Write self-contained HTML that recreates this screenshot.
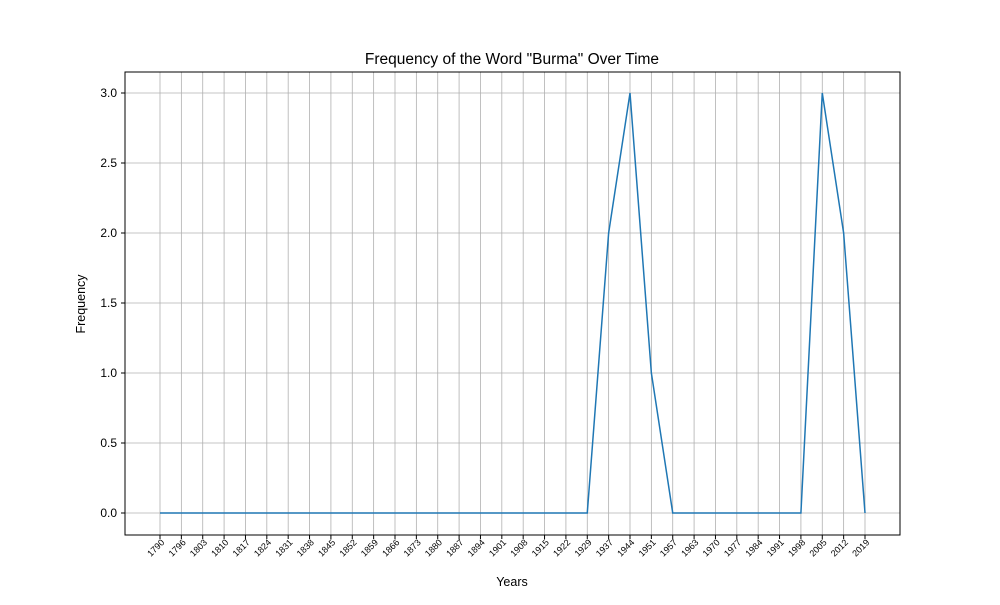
<!DOCTYPE html>
<html><head><meta charset="utf-8"><style>
body{margin:0;background:#fff;}
svg{font-family:"Liberation Sans","DejaVu Sans",sans-serif;}
</style></head><body>
<svg id="chart" width="1000" height="600">
<rect width="1000" height="600" fill="#fff"/>
<text x="512" y="64" font-size="15.5" text-anchor="middle">Frequency of the Word "Burma" Over Time</text>
<text x="512" y="586" font-size="12.5" text-anchor="middle">Years</text>
<text transform="translate(85,304) rotate(-90)" font-size="12.5" text-anchor="middle">Frequency</text>
<g id="grid"></g><g id="xt"></g><g id="yt"></g><g id="series"></g>
<rect x="125" y="72" width="775" height="463" fill="none" stroke="#000" stroke-width="1"/>
</svg>
<script>
const years=["1790","1796","1803","1810","1817","1824","1831","1838","1845","1852","1859","1866","1873","1880","1887","1894","1901","1908","1915","1922","1929","1937","1944","1951","1957","1963","1970","1977","1984","1991","1998","2005","2012","2019"];
const freq=[0,0,0,0,0,0,0,0,0,0,0,0,0,0,0,0,0,0,0,0,0,2,3,1,0,0,0,0,0,0,0,3,2,0];
const yTicks=[0,0.5,1,1.5,2,2.5,3];
const NS="http://www.w3.org/2000/svg";
function X(i){return 160+i*(705/(years.length-1));}
function Y(v){return 513-v*140;}
function mk(t,a,p){const e=document.createElementNS(NS,t);for(const k in a)e.setAttribute(k,a[k]);p.appendChild(e);return e;}
const g=document.getElementById('grid'),xt=document.getElementById('xt'),yt=document.getElementById('yt'),s=document.getElementById('series');
years.forEach((y,i)=>{const x=X(i);
const l=mk('line',{x1:x,x2:x,y1:72,y2:535,stroke:'#b0b0b0','stroke-width':0.8},g);


mk('line',{x1:x,x2:x,y1:535,y2:539,stroke:'#000'},xt);
const t=mk('text',{x:x+5,y:543,'font-size':9,'text-anchor':'end',transform:`rotate(-45 ${x+5} 543)`},xt);t.textContent=y;


});
yTicks.forEach(v=>{const y=Y(v);
const l=mk('line',{x1:125,x2:900,y1:y,y2:y,stroke:'#b0b0b0','stroke-width':0.8},g);


mk('line',{x1:121,x2:125,y1:y,y2:y,stroke:'#000'},yt);
const t=mk('text',{x:117,y:y+4,'font-size':12,'text-anchor':'end'},yt);t.textContent=v.toFixed(1);


});
const p=mk('polyline',{points:freq.map((v,i)=>X(i)+','+Y(v)).join(' '),fill:'none',stroke:'#1f77b4','stroke-width':1.5},s);


</script>
</body></html>
